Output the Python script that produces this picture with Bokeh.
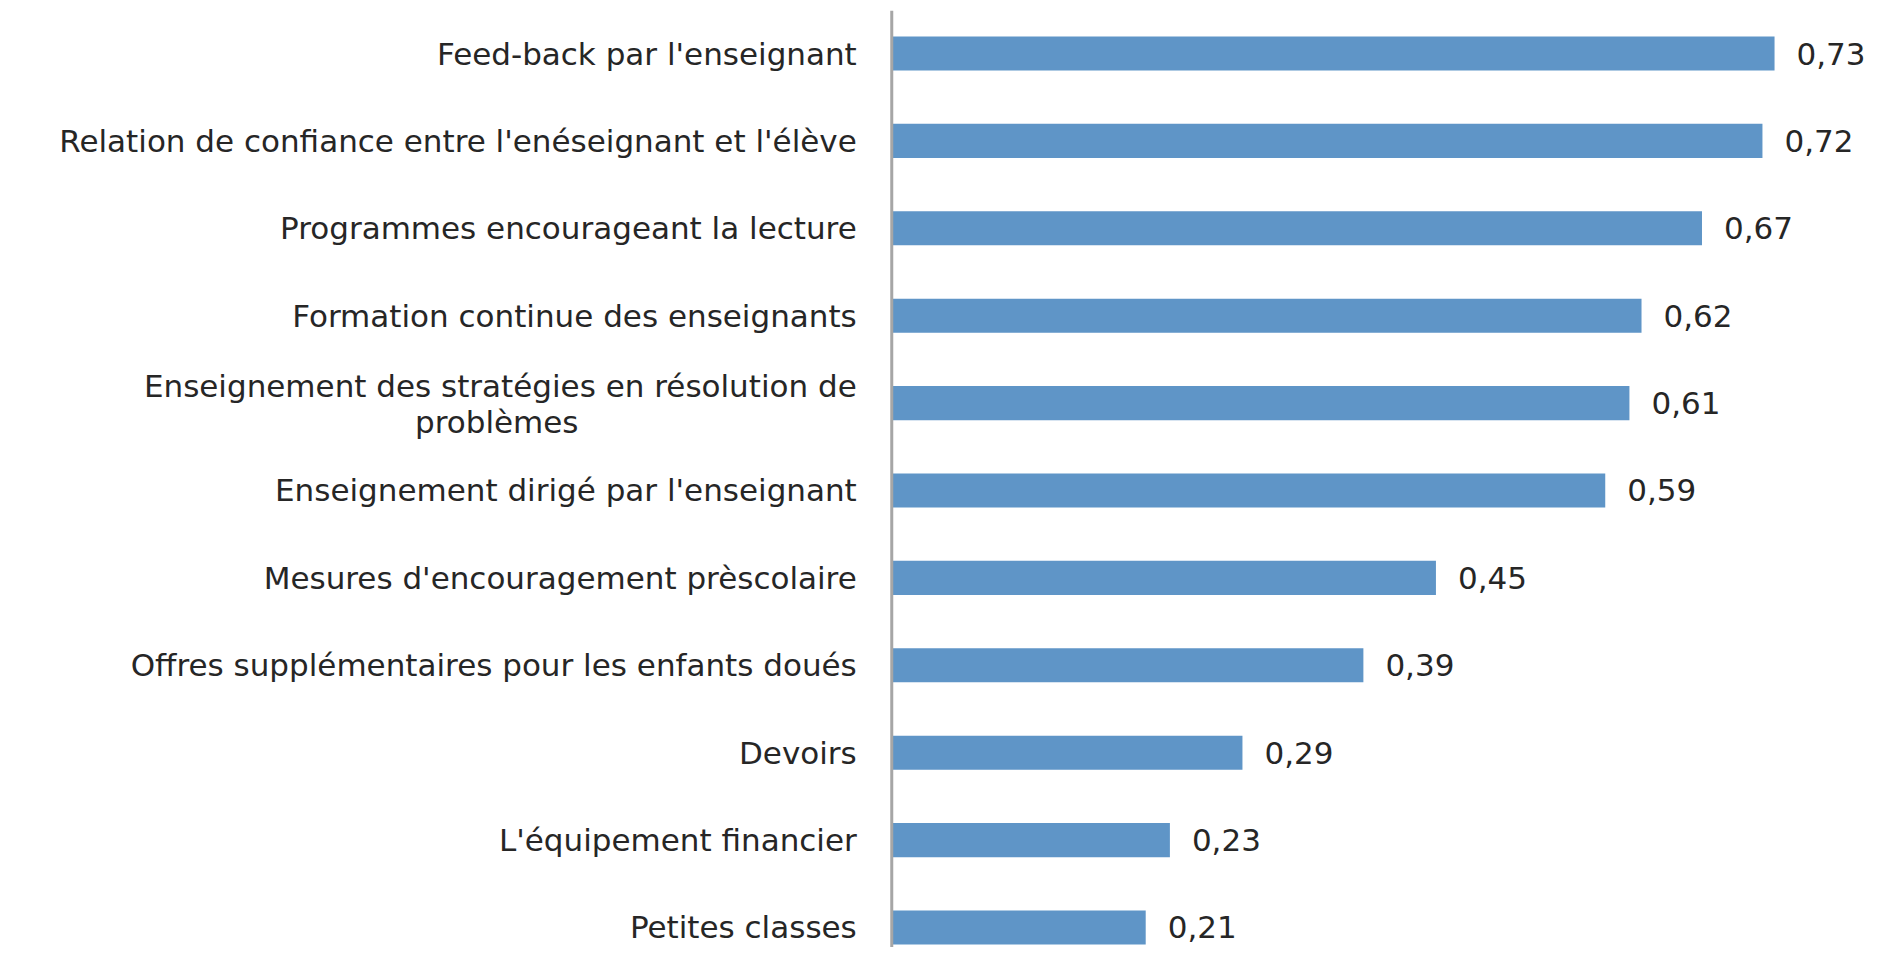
import numpy as np
from bokeh.plotting import figure
from bokeh.models import Range1d, ColumnDataSource, Span
from bokeh.core.properties import value
from bokeh.embed import file_html
from bokeh.resources import INLINE

categories = [
    "Feed-back par l'enseignant",
    "Relation de confiance entre l'enéseignant et l'élève",
    "Programmes encourageant la lecture",
    "Formation continue des enseignants",
    "Enseignement des stratégies en résolution de\nproblèmes",
    "Enseignement dirigé par l'enseignant",
    "Mesures d'encouragement prèscolaire",
    "Offres supplémentaires pour les enfants doués",
    "Devoirs",
    "L'équipement financier",
    "Petites classes",
]
values = [0.73, 0.72, 0.67, 0.62, 0.61, 0.59, 0.45, 0.39, 0.29, 0.23, 0.21]
value_labels = ["0,73", "0,72", "0,67", "0,62", "0,61", "0,59", "0,45", "0,39", "0,29", "0,23", "0,21"]

n = len(categories)
ypos = list(range(n - 1, -1, -1))

FONT = "DejaVu Sans"
TEXT_COLOR = "#262626"
FS = "31px"
STANDOFF = 35          # px between category label and axis line
LINE_SHIFT_UP = 0.19   # first line of a two-line label (in category units)
LINE_SHIFT_DOWN = 0.22 # second line of a two-line label
SECOND_LINE_CENTER = 395  # px left of axis where the second line is centred

src = ColumnDataSource(dict(y=ypos, v=values, lab=value_labels))

# category labels (single lines right-aligned; two-line label split)
lab_y, lab_t = [], []
sec_y, sec_t = [], []
for y, c in zip(ypos, categories):
    if "\n" in c:
        first, second = c.split("\n", 1)
        lab_y.append(y + LINE_SHIFT_UP)
        lab_t.append(first)
        sec_y.append(y - LINE_SHIFT_DOWN)
        sec_t.append(second)
    else:
        lab_y.append(y)
        lab_t.append(c)

p = figure(width=1872, height=947, output_backend="svg", toolbar_location=None,
           x_range=Range1d(-0.737, 0.811), y_range=Range1d(-0.229, n - 1 + 0.492),
           min_border_left=0, min_border_right=0, min_border_top=10, min_border_bottom=0)
p.outline_line_color = None
p.background_fill_color = "white"
p.border_fill_color = "white"
p.xgrid.visible = False
p.ygrid.visible = False
p.xaxis.visible = False
p.yaxis.visible = False

p.hbar(y="y", right="v", left=0, height=0.39, source=src,
       fill_color="#5F95C7", line_color=None)

p.add_layout(Span(location=0, dimension="height", line_color="#A6A6A6", line_width=3))

p.text(x="v", y="y", text="lab", source=src, x_offset=22,
       text_baseline="middle", text_align="left",
       text_font=value(FONT), text_font_size=FS, text_color=TEXT_COLOR)

p.text(x=[0] * len(lab_y), y=lab_y, text=lab_t, x_offset=-STANDOFF,
       text_baseline="middle", text_align="right",
       text_font=value(FONT), text_font_size=FS, text_color=TEXT_COLOR)

p.text(x=[0] * len(sec_y), y=sec_y, text=sec_t, x_offset=-SECOND_LINE_CENTER,
       text_baseline="middle", text_align="center",
       text_font=value(FONT), text_font_size=FS, text_color=TEXT_COLOR)

open("out.html", "w").write(file_html(p, INLINE))
